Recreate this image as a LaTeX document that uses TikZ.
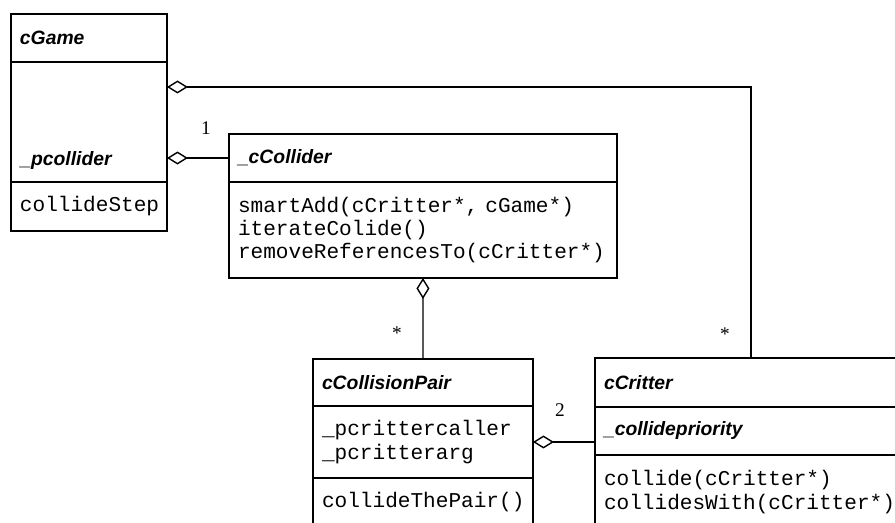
\documentclass[tikz,border=0pt]{standalone}
\usepackage{fontspec}
\setmainfont{Liberation Serif}
\setsansfont{Liberation Sans}
\setmonofont{Liberation Mono}
\usetikzlibrary{positioning}
\usetikzlibrary{arrows.meta}

\tikzset{
	part/.style={draw, line width=0.8pt, rectangle, outer sep=0pt, inner xsep=0.18cm, inner ysep=0pt, align=left, anchor=north west},
	clsname/.style={font=\fontsize{11}{13}\selectfont\sffamily\bfseries\itshape},
	code/.style={font=\fontsize{12}{13.3}\selectfont\ttfamily},
	mult/.style={font=\fontsize{11}{13}\selectfont\rmfamily, inner sep=0pt},
	agg/.style={line width=0.8pt, {Diamond[open, length=0.42cm, width=0.26cm]}-}
}

\begin{document}
\begin{tikzpicture}[x=0.02cm, y=-0.02cm]
		\path[use as bounding box, clip] (0,0) rectangle (895,522);
		% cGame
		\node[part, clsname, minimum width=3.12cm, text width=2.76cm, minimum height=0.96cm] (gameT) at (11,14) {cGame};
		\node[part, minimum width=3.12cm, text width=2.76cm, minimum height=2.4cm, below=0pt of gameT] (gameA) {};
		\node[part, code, minimum width=3.12cm, text width=2.76cm, minimum height=0.98cm, below=0pt of gameA] (gameM) {collideStep};
		\node[clsname, inner sep=0pt, anchor=base west] (gamePc) at ([xshift=0.18cm, yshift=0.32cm]gameA.south west) {\_pcollider};
		% _cCollider
		\node[part, clsname, minimum width=7.76cm, text width=7.4cm, minimum height=0.96cm] (collT) at (229,134) {\_cCollider};
		\node[part, code, minimum width=7.76cm, text width=7.4cm, minimum height=1.92cm, below=0pt of collT] (collM) {smartAdd(cCritter*, cGame*)\\iterateColide()\\removeReferencesTo(cCritter*)};
		% cCollisionPair
		\node[part, clsname, minimum width=4.4cm, text width=4.04cm, minimum height=0.94cm] (pairT) at (313,359) {cCollisionPair};
		\node[part, code, minimum width=4.4cm, text width=4.04cm, minimum height=1.44cm, below=0pt of pairT] (pairA) {\_pcrittercaller\\\_pcritterarg};
		\node[part, code, minimum width=4.4cm, text width=4.04cm, minimum height=0.96cm, below=0pt of pairA] (pairM) {collideThePair()};
		% cCritter
		\node[part, clsname, minimum width=6.8cm, text width=6.44cm, minimum height=0.98cm] (critT) at (595,358) {cCritter};
		\node[part, clsname, minimum width=6.8cm, text width=6.44cm, minimum height=0.96cm, below=0pt of critT] (critA) {\_collidepriority};
		\node[part, code, minimum width=6.8cm, text width=6.44cm, minimum height=1.48cm, below=0pt of critA] (critM) {collide(cCritter*)\\collidesWith(cCritter*)};

		% aggregations
		\draw[agg] ([yshift=-0.5cm]gameA.north east) -| ([xshift=3.12cm]critT.north west);
		\draw[agg] (collT.west -| gameA.east) -- (collT.west);
		\draw[agg] (collM.south) -- (pairT.north);
		\draw[agg] (pairA.east) -- (pairA.east -| critA.west);

		\node[mult] (oneLbl) at (206,128) {1};
		\node[mult] (pairStar) at (397,333) {*};
		\node[mult] (critStar) at (725,334) {*};
		\node[mult] (twoLbl) at (560,410) {2};
	\end{tikzpicture}
\end{document}
